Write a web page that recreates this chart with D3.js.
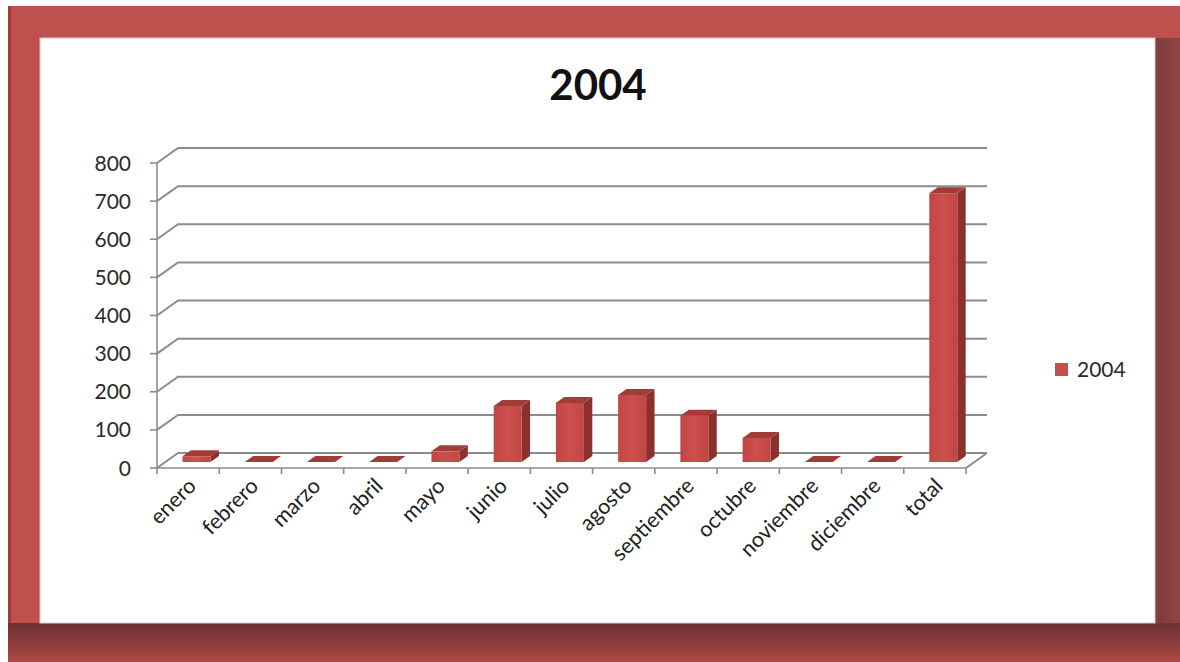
<!DOCTYPE html>
<html>
<head>
<meta charset="utf-8">
<script src="https://cdn.jsdelivr.net/npm/d3@7/dist/d3.min.js"></script>
<style>
  html, body { margin: 0; padding: 0; background: #ffffff; }
  svg { display: block; }
  text { font-family: Lato, "Open Sans", sans-serif; }
</style>
</head>
<body>
<svg id="chart" width="1180" height="662"></svg>
<script>
// Monthly counts for 2004 plus the yearly total
const categories = ["enero", "febrero", "marzo", "abril", "mayo", "junio", "julio",
                    "agosto", "septiembre", "octubre", "noviembre", "diciembre", "total"];
const values2004 = [15, 0, 0, 0, 28, 147, 155, 176, 121, 63, 0, 0, 705];
const yTicks = [0, 100, 200, 300, 400, 500, 600, 700, 800];
const seriesName = "2004";
const chartTitle = "2004";

const svg = d3.select("#chart");
const W = 1180, H = 662;

// ---- framed card ----
const defs = svg.append("defs");
const gBottom = defs.append("linearGradient").attr("id", "bandBottom")
  .attr("x1", 0).attr("y1", 0).attr("x2", 0).attr("y2", 1);
gBottom.append("stop").attr("offset", "0%").attr("stop-color", "#6e3232");
gBottom.append("stop").attr("offset", "45%").attr("stop-color", "#873b3b");
gBottom.append("stop").attr("offset", "100%").attr("stop-color", "#b04a48");
const gRight = defs.append("linearGradient").attr("id", "bandRight")
  .attr("x1", 0).attr("y1", 0).attr("x2", 1).attr("y2", 0);
gRight.append("stop").attr("offset", "0%").attr("stop-color", "#7e3c3c");
gRight.append("stop").attr("offset", "100%").attr("stop-color", "#8f4444");
const gFront = defs.append("linearGradient").attr("id", "barFront")
  .attr("x1", 0).attr("y1", 0).attr("x2", 1).attr("y2", 0);
gFront.append("stop").attr("offset", "0%").attr("stop-color", "#c04643");
gFront.append("stop").attr("offset", "50%").attr("stop-color", "#cc514d");
gFront.append("stop").attr("offset", "100%").attr("stop-color", "#c04643");

svg.append("rect").attr("x", 8).attr("y", 6).attr("width", W - 8).attr("height", H - 6)
  .attr("fill", "#c0504d");
svg.append("rect").attr("x", 8).attr("y", 6).attr("width", 3).attr("height", H - 6)
  .attr("fill", "#a23f3d");
svg.append("rect").attr("x", 1155).attr("y", 38).attr("width", W - 1155).attr("height", H - 38)
  .attr("fill", "url(#bandRight)");
svg.append("rect").attr("x", 8).attr("y", 623).attr("width", W - 8).attr("height", H - 623)
  .attr("fill", "url(#bandBottom)");
svg.append("rect").attr("x", 40).attr("y", 38).attr("width", 1115).attr("height", 585)
  .attr("fill", "#ffffff").attr("stroke", "#d4cccc").attr("stroke-width", 1);

// ---- plot geometry ----
const x0 = 157, x1 = 966, yBase = 468, yTop = 163;
const DX = 21, DY = -15;               // full depth of the floor/walls

const x = d3.scaleBand().domain(categories).range([x0, x1]).padding(0);
const y = d3.scaleLinear().domain([0, 800]).range([yBase, yTop]);

const grid = svg.append("g").attr("fill", "none").attr("stroke", "#8c8c8c").attr("stroke-width", 2);
// back wall gridlines with their side-wall diagonals
yTicks.forEach(t => {
  const yy = y(t);
  grid.append("path").attr("d", `M${x0},${yy} L${x0 + DX},${yy + DY} L${x1 + DX},${yy + DY}`);
});
// right edge of the floor
grid.append("path").attr("d", `M${x1},${yBase} L${x1 + DX},${yBase + DY}`);

// ---- 3D columns ----
const bw = 28;                          // front face width
const fz = 0.4, bz = 0.8;               // depth of front and back faces
const fdx = DX * fz, fdy = DY * fz;
const ddx = DX * (bz - fz), ddy = DY * (bz - fz);

const bars = svg.append("g").selectAll("g").data(categories.map((c, i) => ({ c, v: values2004[i] })))
  .join("g");
bars.each(function (d) {
  const g = d3.select(this);
  const cx = x(d.c) + x.bandwidth() / 2 + fdx;
  const l = cx - bw / 2, r = cx + bw / 2;
  const b = y(0) + fdy, t = y(d.v) + fdy;
  // side face
  g.append("path").attr("fill", "#8c302e")
    .attr("d", `M${r},${b} L${r + ddx},${b + ddy} L${r + ddx},${t + ddy} L${r},${t} Z`);
  // front face
  if (d.v > 0) {
    g.append("rect").attr("x", l).attr("y", t).attr("width", bw).attr("height", b - t)
      .attr("fill", "url(#barFront)");
  }
  // top face
  g.append("path").attr("fill", "#a33c39")
    .attr("d", `M${l},${t} L${l + ddx},${t + ddy} L${r + ddx},${t + ddy} L${r},${t} Z`);
});

// ---- front axes ----
const axisG = svg.append("g").attr("stroke", "#8c8c8c").attr("stroke-width", 1.6).attr("fill", "none");
axisG.append("line").attr("x1", x0).attr("x2", x0).attr("y1", y(800)).attr("y2", yBase);
axisG.append("line").attr("x1", x0).attr("x2", x1).attr("y1", yBase).attr("y2", yBase);
yTicks.forEach(t => {
  axisG.append("line").attr("x1", x0 - 7).attr("x2", x0).attr("y1", y(t)).attr("y2", y(t));
});
categories.concat([null]).forEach((c, i) => {
  const xx = c === null ? x1 : x(c);
  axisG.append("line").attr("x1", xx).attr("x2", xx).attr("y1", yBase).attr("y2", yBase + 6);
});

// y tick labels
svg.append("g").selectAll("text").data(yTicks).join("text")
  .attr("x", 131).attr("y", d => y(d)).attr("dy", "0.36em")
  .attr("text-anchor", "end").attr("font-size", 21).attr("fill", "#2a2a2a")
  .text(d => d);

// category labels, rotated
svg.append("g").selectAll("text").data(categories).join("text")
  .attr("transform", d => `translate(${x(d) + x.bandwidth() / 2 + 4},${yBase + 14}) rotate(-45)`)
  .attr("text-anchor", "end").attr("dy", "0.35em")
  .attr("font-size", 21.5).attr("fill", "#222")
  .text(d => d);

// title
svg.append("text").attr("x", 598).attr("y", 100).attr("text-anchor", "middle")
  .attr("font-size", 42).attr("font-weight", "bold").attr("fill", "#111")
  .text(chartTitle);

// legend
const lg = svg.append("g");
lg.append("rect").attr("x", 1055).attr("y", 363).attr("width", 13).attr("height", 13).attr("fill", "#c0504d");
lg.append("text").attr("x", 1077).attr("y", 377).attr("font-size", 21).attr("fill", "#2a2a2a").text(seriesName);
</script>
</body>
</html>
